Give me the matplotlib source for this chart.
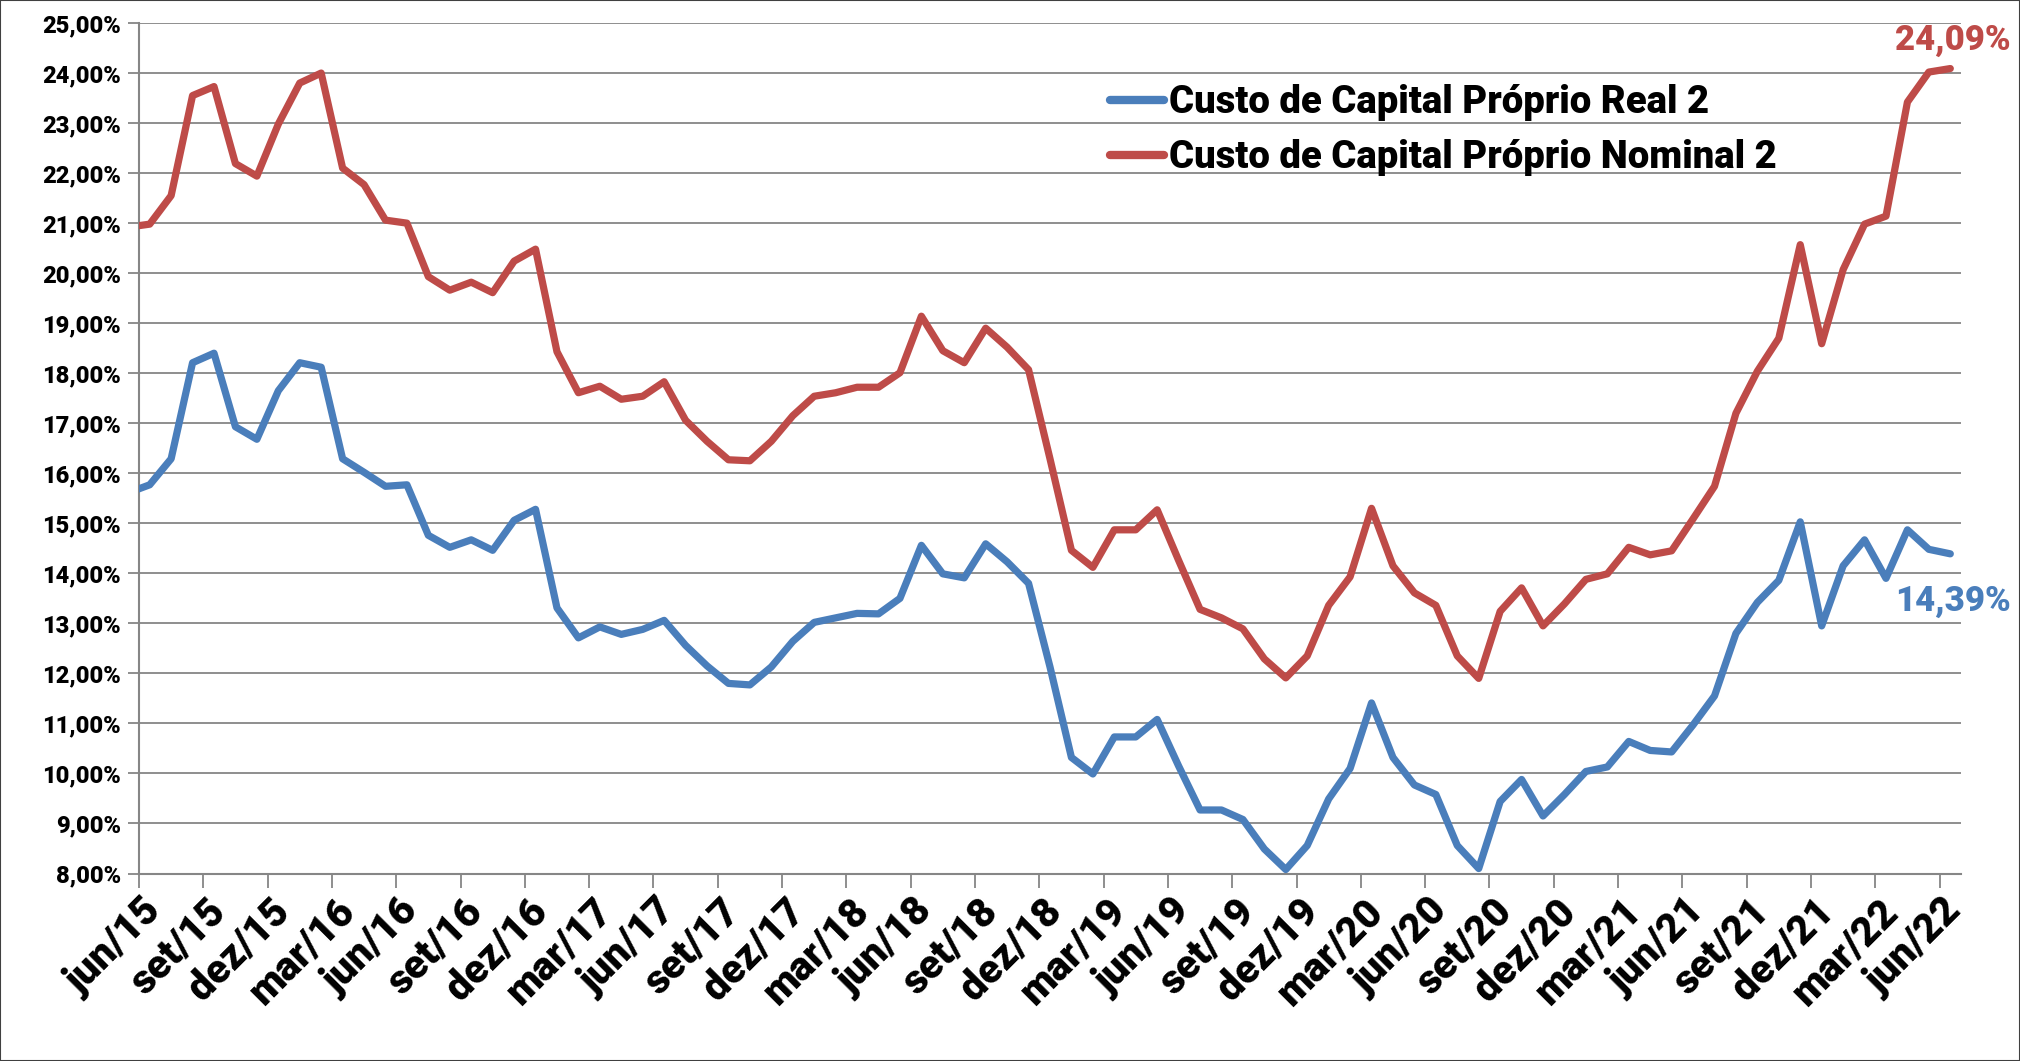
import numpy as np
import matplotlib
matplotlib.use("Agg")
import matplotlib.pyplot as plt
import matplotlib.transforms as mtransforms
from matplotlib.ticker import FixedLocator, MultipleLocator, FuncFormatter
from matplotlib.patches import Rectangle

# monthly series, jun/15 .. jun/22 (values in %), plus the mai/15 value that
# sits just left of the axis and gets clipped
real_before = 15.61
nominal_before = 20.92

real = [
    15.77, 16.29, 18.21, 18.40, 16.93, 16.68, 17.65, 18.21, 18.12, 16.29,
    16.02, 15.74, 15.77, 14.76, 14.52, 14.67, 14.46, 15.06, 15.28, 13.31,
    12.71, 12.93, 12.78, 12.88, 13.06, 12.56, 12.15, 11.80, 11.77, 12.13,
    12.64, 13.02, 13.11, 13.20, 13.19, 13.50, 14.56, 13.99, 13.91, 14.59,
    14.23, 13.80, 12.13, 10.32, 9.99, 10.73, 10.73, 11.08, 10.15, 9.27,
    9.27, 9.08, 8.49, 8.08, 8.56, 9.49, 10.10, 11.41, 10.32, 9.77,
    9.58, 8.56, 8.10, 9.44, 9.88, 9.15, 9.58, 10.04, 10.13, 10.64,
    10.46, 10.43, 10.97, 11.55, 12.80, 13.42, 13.86, 15.03, 12.95, 14.15,
    14.67, 13.90, 14.87, 14.48, 14.39,
]

nominal = [
    20.98, 21.55, 23.55, 23.73, 22.19, 21.94, 22.98, 23.80, 24.00, 22.10,
    21.77, 21.06, 21.00, 19.93, 19.66, 19.82, 19.61, 20.24, 20.48, 18.43,
    17.61, 17.74, 17.48, 17.54, 17.83, 17.06, 16.64, 16.27, 16.25, 16.64,
    17.15, 17.54, 17.61, 17.72, 17.72, 18.01, 19.14, 18.45, 18.21, 18.90,
    18.52, 18.07, 16.29, 14.46, 14.12, 14.87, 14.87, 15.27, 14.26, 13.28,
    13.11, 12.89, 12.29, 11.91, 12.35, 13.36, 13.93, 15.30, 14.15, 13.61,
    13.36, 12.35, 11.90, 13.24, 13.71, 12.95, 13.39, 13.88, 13.99, 14.52,
    14.37, 14.45, 15.09, 15.74, 17.20, 18.04, 18.70, 20.57, 18.59, 20.07,
    20.98, 21.14, 23.42, 24.02, 24.09,
]

tick_months = ["jun", "set", "dez", "mar"]
tick_labels = []
for k in range(29):
    yr = 15 + (k + 1) // 4
    tick_labels.append(f"{tick_months[k % 4]}/{yr}")

label_real = "Custo de Capital Próprio Real 2"
label_nominal = "Custo de Capital Próprio Nominal 2"

BLUE = "#4A7EBB"
RED = "#BE4B48"
GRID = "#868686"
W = "black"  # heaviest available, the original uses a heavy bold

plt.rcParams["font.family"] = ["Roboto", "DejaVu Sans"]
plt.rcParams["font.weight"] = W

fig = plt.figure(figsize=(20.2, 10.61), dpi=100)
ax = fig.add_axes([0.0688, 0.1767, 0.9020, 0.8016])

n = len(real)
x = np.arange(-1, n) + 0.5
y_real = [real_before] + real
y_nom = [nominal_before] + nominal

ax.plot(x, y_real, color=BLUE, lw=5.2, solid_joinstyle="round",
        solid_capstyle="round", label=label_real, zorder=3)
ax.plot(x, y_nom, color=RED, lw=5.2, solid_joinstyle="round",
        solid_capstyle="round", label=label_nominal, zorder=3)

ax.set_xlim(0, 85)
ax.set_ylim(8, 25)
ax.yaxis.set_major_locator(MultipleLocator(1))
ax.yaxis.set_major_formatter(FuncFormatter(lambda v, p: f"{v:.2f}%".replace(".", ",")))
ax.xaxis.set_major_locator(FixedLocator(np.arange(0, 85, 3)))
ax.set_xticklabels(tick_labels, rotation=45, ha="right", va="center",
                   rotation_mode="anchor", fontsize=29, fontweight=W)

ax.grid(axis="y", color=GRID, lw=1.3)
ax.set_axisbelow(True)
for s in ["top", "right"]:
    ax.spines[s].set_visible(False)
for s in ["left", "bottom"]:
    ax.spines[s].set_color(GRID)
    ax.spines[s].set_linewidth(1.5)
ax.tick_params(axis="y", direction="out", length=8, width=1.3, color=GRID,
               labelsize=17, pad=5)
ax.tick_params(axis="x", direction="out", length=10, width=1.3, color=GRID,
               pad=10)
for lbl in ax.get_yticklabels():
    lbl.set_fontweight(W)
shift = mtransforms.ScaledTranslation(0.16, -0.04, fig.dpi_scale_trans)
for lbl in ax.get_xticklabels():
    lbl.set_transform(lbl.get_transform() + shift)

# end labels
ax.annotate(f"{nominal[-1]:.2f}%".replace(".", ","), (x[-1], nominal[-1]),
            xytext=(2, 20), textcoords="offset points", ha="center", va="center",
            color=RED, fontsize=25, fontweight=W, annotation_clip=False)
ax.annotate(f"{real[-1]:.2f}%".replace(".", ","), (x[-1], real[-1]),
            xytext=(2, -34), textcoords="offset points", ha="center", va="center",
            color=BLUE, fontsize=25, fontweight=W, annotation_clip=False)

leg = ax.legend(loc="upper left", bbox_to_anchor=(1110 / 2020, 1 - 84 / 1061),
                bbox_transform=fig.transFigure, frameon=False, fontsize=27.5,
                handlelength=1.42, handletextpad=0.12, labelspacing=0.48,
                borderpad=0, borderaxespad=0)
for t in leg.get_texts():
    t.set_fontweight(W)
for h in leg.get_lines():
    h.set_linewidth(6)

fig.patches.append(Rectangle((0, 0), 1, 1, transform=fig.transFigure,
                             fill=False, ec="#404040", lw=1.5))

fig.savefig("out.png", dpi=100)
